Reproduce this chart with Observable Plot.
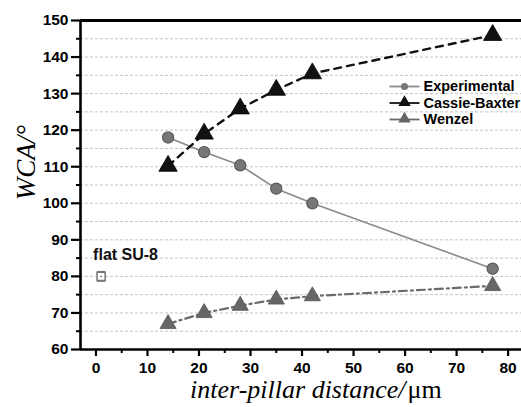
<!DOCTYPE html>
<html>
<head>
<meta charset="utf-8">
<script src="https://cdn.jsdelivr.net/npm/d3@7"></script>
<script src="https://cdn.jsdelivr.net/npm/@observablehq/plot@0.6"></script>
<style>
  html, body { margin: 0; padding: 0; background: #fff; }
  #chart svg { display: block; }
</style>
</head>
<body>
<div id="chart"></div>
<script>
// ---- data ----
const distance = [14, 21, 28, 35, 42, 77];
const experimental = [118, 114, 110.4, 104, 100, 82.1];
const cassieBaxter = [110.2, 119, 125.9, 131, 135.5, 146];
const wenzel = [67, 70, 72, 73.7, 74.6, 77.4];
const seriesNames = ["Experimental", "Cassie-Baxter", "Wenzel"];
const flatX = [1];
const flatY = [80];
const flatErr = [1.3];
const flatLabel = ["flat SU-8"];
const xTicks = [0, 10, 20, 30, 40, 50, 60, 70, 80];
const xMinorTicks = [5, 15, 25, 35, 45, 55, 65, 75];
const yTicks = [60, 70, 80, 90, 100, 110, 120, 130, 140, 150];
const yMinorTicks = [65, 75, 85, 95, 105, 115, 125, 135, 145];
const gridValues = [65, 70, 75, 80, 85, 90, 95, 100, 105, 110, 115, 120, 125, 130, 135, 140, 145];
const xTitle = ["inter-pillar distance/", "μm"];
const yTitle = ["WCA/°"];
const xDomain = [-3, 82.6];
const yDomain = [60, 150];

// ---- build tables ----
const rows = (vals) => distance.map((d, i) => ({x: d, y: vals[i]}));
const expRows = rows(experimental);
const cbRows = rows(cassieBaxter);
const wzRows = rows(wenzel);
const flatRows = flatX.map((x, i) => ({x, y: flatY[i], e: flatErr[i], label: flatLabel[i]}));

const styles = {
  "Experimental": {stroke: "#8a8a8a", fill: "#777", symbol: "circle", lineDash: null},
  "Cassie-Baxter": {stroke: "#111", fill: "#111", symbol: "triangle", lineDash: "7,6"},
  "Wenzel": {stroke: "#6a6a6a", fill: "#666", symbol: "triangle", lineDash: "8,4,2,4"}
};

const hLine = (half) => ({draw(ctx) { ctx.moveTo(-half, 0); ctx.lineTo(half, 0); }});

const legendMarks = seriesNames.flatMap((name, i) => {
  const s = styles[name];
  const dy = 66 + i * 16.5;
  return [
    Plot.dot([name], {frameAnchor: "top-left", dx: 324, dy, symbol: hLine(15), r: 4, stroke: s.stroke, strokeWidth: 1.8, fill: "none"}),
    Plot.dot([name], {frameAnchor: "top-left", dx: 324, dy: dy + (s.symbol === "triangle" ? -0.5 : 0), symbol: s.symbol, r: s.symbol === "triangle" ? 4.6 : 3.6, fill: s.fill, stroke: "none"}),
    Plot.text([name], {frameAnchor: "top-left", dx: 343, dy, text: d => d, textAnchor: "start", lineAnchor: "middle", fontSize: 14.5, fontWeight: "bold", fontFamily: "Liberation Sans, Arial, sans-serif", fill: "#000", letterSpacing: "-0.5px"})
  ];
});

const chart = Plot.plot({
  width: 521,
  height: 407,
  marginLeft: 80,
  marginRight: 0,
  marginTop: 20,
  marginBottom: 58,
  style: {fontFamily: "Liberation Sans, Arial, sans-serif", fontWeight: "bold", fontSize: "15px", color: "#000", background: "#fff"},
  x: {domain: xDomain},
  y: {domain: yDomain},
  marks: [
    Plot.gridY(gridValues, {stroke: "#c4c4c4", strokeOpacity: 1, strokeDasharray: "3,2", strokeWidth: 1}),
    Plot.axisY({ticks: yTicks, tickSize: 9, tickPadding: 3, strokeWidth: 2.2, label: null, fontSize: 15.5, fontWeight: "bold", fill: "#000"}),
    Plot.axisY({ticks: yMinorTicks, tickSize: 4, tickFormat: () => "", strokeWidth: 2, label: null}),
    Plot.axisX({ticks: xTicks, tickSize: 7, tickPadding: 5, strokeWidth: 2.2, label: null, fontSize: 15.5, fontWeight: "bold", fill: "#000"}),
    Plot.axisX({ticks: xMinorTicks, tickSize: 4, tickFormat: () => "", strokeWidth: 2, label: null}),
    Plot.ruleX([xDomain[0]], {stroke: "#000", strokeWidth: 2.6}),
    Plot.ruleY([yDomain[0]], {stroke: "#000", strokeWidth: 2.6}),
    Plot.ruleY([yDomain[1]], {stroke: "#000", strokeWidth: 2.8}),

    // series lines
    Plot.line(expRows, {x: "x", y: "y", stroke: styles["Experimental"].stroke, strokeWidth: 1.6}),
    Plot.line(cbRows, {x: "x", y: "y", stroke: styles["Cassie-Baxter"].stroke, strokeWidth: 2.4, strokeDasharray: styles["Cassie-Baxter"].lineDash}),
    Plot.line(wzRows, {x: "x", y: "y", stroke: styles["Wenzel"].stroke, strokeWidth: 2.2, strokeDasharray: styles["Wenzel"].lineDash}),

    // markers
    Plot.dot(wzRows, {x: "x", y: "y", symbol: "triangle", r: 6.0, fill: styles["Wenzel"].fill, stroke: "#555", strokeWidth: 0.8}),
    Plot.dot(cbRows, {x: "x", y: "y", symbol: "triangle", r: 6.8, fill: styles["Cassie-Baxter"].fill, stroke: "#000", strokeWidth: 0.8}),
    Plot.dot(expRows, {x: "x", y: "y", symbol: "circle", r: 5.6, fill: styles["Experimental"].fill, stroke: "#5a5a5a", strokeWidth: 1.2}),

    // flat SU-8 reference point
    Plot.ruleX(flatRows, {x: "x", y1: d => d.y - d.e, y2: d => d.y + d.e, stroke: "#777", strokeWidth: 1.4}),
    Plot.dot(flatRows, {x: "x", y: d => d.y + d.e, symbol: hLine(4), r: 3, stroke: "#777", strokeWidth: 1.4}),
    Plot.dot(flatRows, {x: "x", y: d => d.y - d.e, symbol: hLine(4), r: 3, stroke: "#777", strokeWidth: 1.4}),
    Plot.dot(flatRows, {x: "x", y: "y", symbol: "square", r: 4.6, fill: "#fff", stroke: "#777", strokeWidth: 1.5}),
    Plot.dot(flatRows, {x: "x", y: "y", r: 0.9, fill: "#777"}),
    Plot.text(flatRows, {x: "x", y: "y", text: "label", dx: -8, dy: -22, textAnchor: "start", lineAnchor: "middle", fontSize: 16, fontWeight: "bold", fill: "#111", letterSpacing: "-0.5px"}),

    // legend
    ...legendMarks,

    // axis titles
    Plot.text([xTitle[0]], {frameAnchor: "bottom", text: d => d, dx: 104.5, dy: 40, textAnchor: "end", lineAnchor: "middle", fontFamily: "Liberation Serif, Times New Roman, serif", fontStyle: "italic", fontWeight: "normal", fontSize: 26, letterSpacing: "1.3px", fill: "#000"}),
    Plot.text([xTitle[1]], {frameAnchor: "bottom", text: d => d, dx: 106.5, dy: 40, textAnchor: "start", lineAnchor: "middle", fontFamily: "Liberation Serif, Times New Roman, serif", fontStyle: "normal", fontWeight: "normal", fontSize: 26, letterSpacing: "1px", fill: "#000"}),
    Plot.text(yTitle, {frameAnchor: "left", text: d => d, rotate: -90, dx: -54, dy: -22.5, textAnchor: "middle", lineAnchor: "middle", fontFamily: "Liberation Serif, Times New Roman, serif", fontStyle: "italic", fontWeight: "normal", fontSize: 27, letterSpacing: "1px", fill: "#000"})
  ]
});

document.getElementById("chart").appendChild(chart);
</script>
</body>
</html>
